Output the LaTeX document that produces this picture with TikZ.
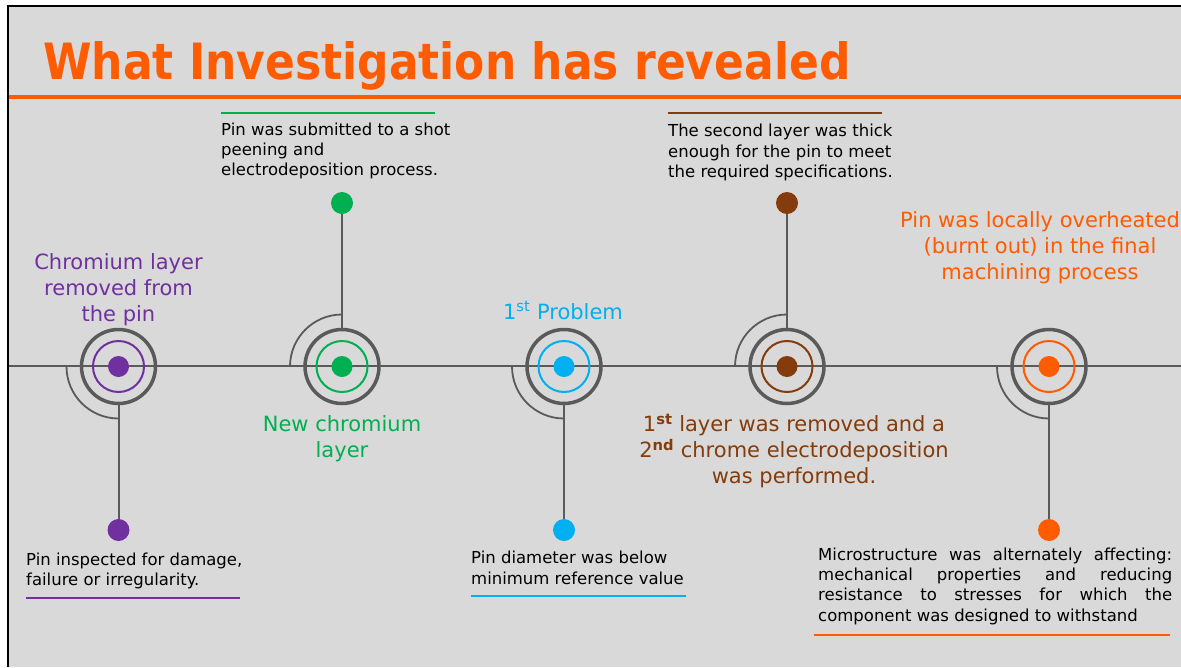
\documentclass[tikz,border=0pt]{standalone}
\usepackage{fontspec}
\setmainfont{DejaVu Sans}
\newfontfamily\titlefont[FakeStretch=0.88]{DejaVu Sans}
\definecolor{bg}{HTML}{D9D9D9}
\definecolor{tlgray}{HTML}{5A5A5A}
\definecolor{cpurple}{HTML}{7030A0}
\definecolor{cgreen}{HTML}{00B050}
\definecolor{cblue}{HTML}{00B0F0}
\definecolor{cbrown}{HTML}{843C0C}
\definecolor{corange}{HTML}{FF5B00}
\tikzset{
  outerring/.style={circle, draw=tlgray, line width=3.5pt, minimum size=74pt, inner sep=0pt},
  innerring/.style={circle, draw=#1, line width=2pt, minimum size=51pt, inner sep=0pt},
  bigdot/.style={circle, fill=#1, minimum size=21pt, inner sep=0pt},
  smalldot/.style={circle, fill=#1, minimum size=22pt, inner sep=0pt},
  conn/.style={draw=tlgray, line width=2pt},
  arcline/.style={draw=tlgray, line width=1.8pt},
  lbl/.style={font=\fontsize{21}{26}\selectfont, align=center, inner sep=0pt, anchor=north},
  note/.style={font=\fontsize{16.5}{20.3}\selectfont, align=left, inner sep=0pt, anchor=north west, text=black},
  underline/.style={draw=#1, line width=1.8pt},
}
\begin{document}
\begin{tikzpicture}[x=1pt,y=1pt]
\useasboundingbox (0,0) rectangle (1181,-667);
\fill[white] (0,0) rectangle (1181,-667);
\fill[bg] (8,-6) rectangle (1181,-667);
\draw[black, line width=2.2pt] (8,-667) -- (8,-6) -- (1181,-6);
% title
\node[anchor=base west, inner sep=0pt, text=corange, font=\titlefont\bfseries\fontsize{50}{60}\selectfont] (title) at (43,-79.5) {What Investigation has revealed};
\draw[draw=corange, line width=3.5pt] (9,-97) -- (1181,-97);
% underlines
\draw[underline=cgreen] (221,-113) -- (435,-113);
\draw[underline=cbrown] (668,-113) -- (882,-113);
\draw[underline=cpurple] (26,-598) -- (240,-598);
\draw[underline=cblue] (471,-596) -- (686,-596);
\draw[underline=corange] (814,-635) -- (1170,-635);
% timeline
\coordinate (tlL) at (9,-366);
\coordinate (tlR) at (1181,-366);
\draw[conn] (tlL) -- (tlR);
% milestones
\node[outerring] (m1) at (118.5,-366.5) {};
\node[innerring=cpurple] (m1i) at (m1) {};
\node[bigdot=cpurple] (m1d) at (m1) {};
\node[outerring] (m2) at (342,-366.5) {};
\node[innerring=cgreen] (m2i) at (m2) {};
\node[bigdot=cgreen] (m2d) at (m2) {};
\node[outerring] (m3) at (564,-366.5) {};
\node[innerring=cblue] (m3i) at (m3) {};
\node[bigdot=cblue] (m3d) at (m3) {};
\node[outerring] (m4) at (787,-366.5) {};
\node[innerring=cbrown] (m4i) at (m4) {};
\node[bigdot=cbrown] (m4d) at (m4) {};
\node[outerring] (m5) at (1049,-366.5) {};
\node[innerring=corange] (m5i) at (m5) {};
\node[bigdot=corange] (m5d) at (m5) {};
% arcs
\draw[arcline] ([xshift=-52pt]m1.center) arc[start angle=180, end angle=270, radius=52pt];
\draw[arcline] ([xshift=-52pt]m2.center) arc[start angle=180, end angle=90, radius=52pt];
\draw[arcline] ([xshift=-52pt]m3.center) arc[start angle=180, end angle=270, radius=52pt];
\draw[arcline] ([xshift=-52pt]m4.center) arc[start angle=180, end angle=90, radius=52pt];
\draw[arcline] ([xshift=-52pt]m5.center) arc[start angle=180, end angle=270, radius=52pt];
% end dots and connectors
\coordinate (p1) at (118.5,-530);
\coordinate (p2) at (342,-203);
\coordinate (p3) at (564,-530);
\coordinate (p4) at (787,-203);
\coordinate (p5) at (1049,-530);
\draw[conn] (m1.south) -- (p1);
\draw[conn] (m2.north) -- (p2);
\draw[conn] (m3.south) -- (p3);
\draw[conn] (m4.north) -- (p4);
\draw[conn] (m5.south) -- (p5);
\node[smalldot=cpurple] (d1) at (p1) {};
\node[smalldot=cgreen] (d2) at (p2) {};
\node[smalldot=cblue] (d3) at (p3) {};
\node[smalldot=cbrown] (d4) at (p4) {};
\node[smalldot=corange] (d5) at (p5) {};
% coloured labels
\node[lbl, text=cpurple] (l1) at (118.5,-253) {Chromium layer\\removed from\\the pin};
\node[lbl, text=cgreen] (l2) at (342,-415) {New chromium\\layer};
\node[lbl, text=cblue] (l3) at (563,-301) {1\textsuperscript{st} Problem};
\node[lbl, text=cbrown] (l4) at (794,-413.5) {1\textsuperscript{\bfseries st} layer was removed and a\\2\textsuperscript{\bfseries nd} chrome electrodeposition\\was performed.};
\node[lbl, text=corange] (l5) at (1040,-211) {Pin was locally overheated\\(burnt out) in the final\\machining process};
% notes
\node[note] (n2) at (221,-122.5) {Pin was submitted to a shot\\peening and\\electrodeposition process.};
\node[note] (n4) at (668,-124) {The second layer was thick\\enough for the pin to meet\\the required specifications.};
\node[note] (n1) at (26,-552.5) {Pin inspected for damage,\\failure or irregularity.};
\node[note] (n3) at (471,-551) {Pin diameter was below\\minimum reference value};
\node[note, text width=354pt, align=justify] (n5) at (818,-547.5) {\tolerance=10000 Microstructure was alternately affecting:\linebreak mechanical properties and reducing\linebreak resistance to stresses for which the\linebreak component was designed to withstand};
\end{tikzpicture}
\end{document}
